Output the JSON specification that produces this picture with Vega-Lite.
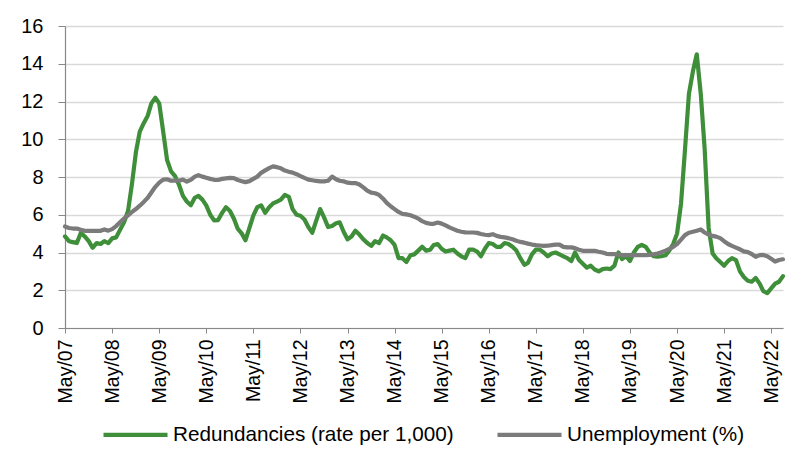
{
  "$schema": "https://vega.github.io/schema/vega-lite/v6.json",
  "width": 718,
  "height": 302,
  "autosize": "none",
  "padding": {"left": 65, "top": 26, "right": 17, "bottom": 125},
  "background": "white",
  "config": {"view": {"stroke": null}, "font": "Liberation Sans"},
  "data": {"values": [
{"d":"2007-05-01","r":4.85,"u":5.38},{"d":"2007-06-01","r":4.6,"u":5.3},{"d":"2007-07-01","r":4.55,"u":5.27},{"d":"2007-08-01","r":4.5,"u":5.27},{"d":"2007-09-01","r":5.05,"u":5.2},{"d":"2007-10-01","r":4.85,"u":5.15},{"d":"2007-11-01","r":4.6,"u":5.15},{"d":"2007-12-01","r":4.25,"u":5.15},
{"d":"2008-01-01","r":4.5,"u":5.15},{"d":"2008-02-01","r":4.45,"u":5.15},{"d":"2008-03-01","r":4.6,"u":5.22},{"d":"2008-04-01","r":4.5,"u":5.16},{"d":"2008-05-01","r":4.75,"u":5.24},{"d":"2008-06-01","r":4.8,"u":5.4},{"d":"2008-07-01","r":5.2,"u":5.6},{"d":"2008-08-01","r":5.6,"u":5.8},{"d":"2008-09-01","r":6.2,"u":5.97},{"d":"2008-10-01","r":7.6,"u":6.15},{"d":"2008-11-01","r":9.3,"u":6.3},{"d":"2008-12-01","r":10.4,"u":6.48},
{"d":"2009-01-01","r":10.85,"u":6.68},{"d":"2009-02-01","r":11.25,"u":6.9},{"d":"2009-03-01","r":11.9,"u":7.18},{"d":"2009-04-01","r":12.2,"u":7.48},{"d":"2009-05-01","r":11.9,"u":7.7},{"d":"2009-06-01","r":10.4,"u":7.86},{"d":"2009-07-01","r":8.9,"u":7.88},{"d":"2009-08-01","r":8.3,"u":7.8},{"d":"2009-09-01","r":8.05,"u":7.82},{"d":"2009-10-01","r":7.6,"u":7.8},{"d":"2009-11-01","r":7.0,"u":7.86},{"d":"2009-12-01","r":6.7,"u":7.76},
{"d":"2010-01-01","r":6.5,"u":7.85},{"d":"2010-02-01","r":6.9,"u":8.02},{"d":"2010-03-01","r":7.0,"u":8.1},{"d":"2010-04-01","r":6.8,"u":8.02},{"d":"2010-05-01","r":6.5,"u":7.96},{"d":"2010-06-01","r":6.0,"u":7.9},{"d":"2010-07-01","r":5.7,"u":7.85},{"d":"2010-08-01","r":5.72,"u":7.84},{"d":"2010-09-01","r":6.1,"u":7.9},{"d":"2010-10-01","r":6.4,"u":7.93},{"d":"2010-11-01","r":6.2,"u":7.95},{"d":"2010-12-01","r":5.8,"u":7.94},
{"d":"2011-01-01","r":5.25,"u":7.84},{"d":"2011-02-01","r":5.0,"u":7.78},{"d":"2011-03-01","r":4.65,"u":7.73},{"d":"2011-04-01","r":5.3,"u":7.78},{"d":"2011-05-01","r":5.95,"u":7.9},{"d":"2011-06-01","r":6.4,"u":8.02},{"d":"2011-07-01","r":6.5,"u":8.22},{"d":"2011-08-01","r":6.1,"u":8.35},{"d":"2011-09-01","r":6.4,"u":8.47},{"d":"2011-10-01","r":6.6,"u":8.56},{"d":"2011-11-01","r":6.7,"u":8.52},{"d":"2011-12-01","r":6.8,"u":8.46},
{"d":"2012-01-01","r":7.05,"u":8.34},{"d":"2012-02-01","r":6.95,"u":8.28},{"d":"2012-03-01","r":6.3,"u":8.23},{"d":"2012-04-01","r":6.0,"u":8.15},{"d":"2012-05-01","r":5.95,"u":8.05},{"d":"2012-06-01","r":5.75,"u":7.95},{"d":"2012-07-01","r":5.35,"u":7.86},{"d":"2012-08-01","r":5.05,"u":7.83},{"d":"2012-09-01","r":5.7,"u":7.79},{"d":"2012-10-01","r":6.3,"u":7.77},{"d":"2012-11-01","r":5.85,"u":7.77},{"d":"2012-12-01","r":5.35,"u":7.8},
{"d":"2013-01-01","r":5.4,"u":8.02},{"d":"2013-02-01","r":5.55,"u":7.88},{"d":"2013-03-01","r":5.6,"u":7.8},{"d":"2013-04-01","r":5.1,"u":7.77},{"d":"2013-05-01","r":4.7,"u":7.7},{"d":"2013-06-01","r":4.85,"u":7.68},{"d":"2013-07-01","r":5.15,"u":7.68},{"d":"2013-08-01","r":4.95,"u":7.6},{"d":"2013-09-01","r":4.7,"u":7.45},{"d":"2013-10-01","r":4.5,"u":7.28},{"d":"2013-11-01","r":4.35,"u":7.17},{"d":"2013-12-01","r":4.6,"u":7.14},
{"d":"2014-01-01","r":4.5,"u":7.05},{"d":"2014-02-01","r":4.9,"u":6.85},{"d":"2014-03-01","r":4.8,"u":6.63},{"d":"2014-04-01","r":4.65,"u":6.45},{"d":"2014-05-01","r":4.4,"u":6.3},{"d":"2014-06-01","r":3.7,"u":6.15},{"d":"2014-07-01","r":3.7,"u":6.05},{"d":"2014-08-01","r":3.5,"u":6.02},{"d":"2014-09-01","r":3.85,"u":5.97},{"d":"2014-10-01","r":3.9,"u":5.9},{"d":"2014-11-01","r":4.1,"u":5.8},{"d":"2014-12-01","r":4.3,"u":5.66},
{"d":"2015-01-01","r":4.1,"u":5.57},{"d":"2015-02-01","r":4.15,"u":5.52},{"d":"2015-03-01","r":4.4,"u":5.52},{"d":"2015-04-01","r":4.45,"u":5.59},{"d":"2015-05-01","r":4.2,"u":5.53},{"d":"2015-06-01","r":4.05,"u":5.44},{"d":"2015-07-01","r":4.1,"u":5.33},{"d":"2015-08-01","r":4.15,"u":5.24},{"d":"2015-09-01","r":3.95,"u":5.15},{"d":"2015-10-01","r":3.8,"u":5.1},{"d":"2015-11-01","r":3.7,"u":5.07},{"d":"2015-12-01","r":4.15,"u":5.06},
{"d":"2016-01-01","r":4.15,"u":5.06},{"d":"2016-02-01","r":4.05,"u":5.04},{"d":"2016-03-01","r":3.8,"u":4.98},{"d":"2016-04-01","r":4.2,"u":4.94},{"d":"2016-05-01","r":4.5,"u":4.92},{"d":"2016-06-01","r":4.45,"u":4.97},{"d":"2016-07-01","r":4.3,"u":4.88},{"d":"2016-08-01","r":4.3,"u":4.83},{"d":"2016-09-01","r":4.5,"u":4.8},{"d":"2016-10-01","r":4.45,"u":4.76},{"d":"2016-11-01","r":4.3,"u":4.7},{"d":"2016-12-01","r":4.1,"u":4.62},
{"d":"2017-01-01","r":3.7,"u":4.56},{"d":"2017-02-01","r":3.35,"u":4.52},{"d":"2017-03-01","r":3.45,"u":4.47},{"d":"2017-04-01","r":3.9,"u":4.42},{"d":"2017-05-01","r":4.15,"u":4.39},{"d":"2017-06-01","r":4.15,"u":4.37},{"d":"2017-07-01","r":4.0,"u":4.35},{"d":"2017-08-01","r":3.8,"u":4.36},{"d":"2017-09-01","r":3.95,"u":4.39},{"d":"2017-10-01","r":4.0,"u":4.42},{"d":"2017-11-01","r":3.9,"u":4.42},{"d":"2017-12-01","r":3.8,"u":4.3},
{"d":"2018-01-01","r":3.7,"u":4.27},{"d":"2018-02-01","r":3.55,"u":4.27},{"d":"2018-03-01","r":4.0,"u":4.23},{"d":"2018-04-01","r":3.6,"u":4.15},{"d":"2018-05-01","r":3.4,"u":4.09},{"d":"2018-06-01","r":3.2,"u":4.09},{"d":"2018-07-01","r":3.3,"u":4.09},{"d":"2018-08-01","r":3.1,"u":4.09},{"d":"2018-09-01","r":3.0,"u":4.04},{"d":"2018-10-01","r":3.12,"u":4.0},{"d":"2018-11-01","r":3.15,"u":3.93},{"d":"2018-12-01","r":3.12,"u":3.91},
{"d":"2019-01-01","r":3.3,"u":3.91},{"d":"2019-02-01","r":4.0,"u":3.89},{"d":"2019-03-01","r":3.65,"u":3.86},{"d":"2019-04-01","r":3.8,"u":3.86},{"d":"2019-05-01","r":3.55,"u":3.86},{"d":"2019-06-01","r":4.0,"u":3.86},{"d":"2019-07-01","r":4.3,"u":3.86},{"d":"2019-08-01","r":4.4,"u":3.86},{"d":"2019-09-01","r":4.3,"u":3.86},{"d":"2019-10-01","r":4.0,"u":3.87},{"d":"2019-11-01","r":3.8,"u":3.9},{"d":"2019-12-01","r":3.78,"u":3.95},
{"d":"2020-01-01","r":3.8,"u":4.02},{"d":"2020-02-01","r":3.85,"u":4.1},{"d":"2020-03-01","r":4.1,"u":4.19},{"d":"2020-04-01","r":4.45,"u":4.3},{"d":"2020-05-01","r":5.0,"u":4.45},{"d":"2020-06-01","r":6.6,"u":4.68},{"d":"2020-07-01","r":9.4,"u":4.92},{"d":"2020-08-01","r":12.4,"u":5.05},{"d":"2020-09-01","r":13.6,"u":5.1},{"d":"2020-10-01","r":14.5,"u":5.15},{"d":"2020-11-01","r":12.4,"u":5.22},{"d":"2020-12-01","r":9.5,"u":5.06},
{"d":"2021-01-01","r":5.3,"u":4.95},{"d":"2021-02-01","r":3.95,"u":4.88},{"d":"2021-03-01","r":3.7,"u":4.84},{"d":"2021-04-01","r":3.5,"u":4.76},{"d":"2021-05-01","r":3.3,"u":4.6},{"d":"2021-06-01","r":3.55,"u":4.45},{"d":"2021-07-01","r":3.7,"u":4.35},{"d":"2021-08-01","r":3.6,"u":4.26},{"d":"2021-09-01","r":3.0,"u":4.17},{"d":"2021-10-01","r":2.7,"u":4.06},{"d":"2021-11-01","r":2.5,"u":4.02},{"d":"2021-12-01","r":2.45,"u":3.92},
{"d":"2022-01-01","r":2.65,"u":3.77},{"d":"2022-02-01","r":2.35,"u":3.86},{"d":"2022-03-01","r":1.95,"u":3.87},{"d":"2022-04-01","r":1.85,"u":3.8},{"d":"2022-05-01","r":2.1,"u":3.67},{"d":"2022-06-01","r":2.35,"u":3.52},{"d":"2022-07-01","r":2.45,"u":3.6},{"d":"2022-08-01","r":2.75,"u":3.64}
  ]},
  "transform": [{"fold": ["r", "u"], "as": ["series", "value"]}],
  "mark": {"type": "line", "strokeWidth": 4.2, "strokeJoin": "round", "strokeCap": "round"},
  "encoding": {
    "x": {
      "field": "d", "type": "temporal", "timeUnit": "utcyearmonth",
      "scale": {"domain": [{"year": 2007, "month": 5, "date": 1, "utc": true}, {"year": 2022, "month": 8, "date": 1, "utc": true}], "nice": false},
      "axis": {
        "title": null, "format": "%b/%y", "labelAngle": -90, "grid": false,
        "values": [
          {"year": 2007, "month": 5, "date": 1, "utc": true}, {"year": 2008, "month": 5, "date": 1, "utc": true},
          {"year": 2009, "month": 5, "date": 1, "utc": true}, {"year": 2010, "month": 5, "date": 1, "utc": true},
          {"year": 2011, "month": 5, "date": 1, "utc": true}, {"year": 2012, "month": 5, "date": 1, "utc": true},
          {"year": 2013, "month": 5, "date": 1, "utc": true}, {"year": 2014, "month": 5, "date": 1, "utc": true},
          {"year": 2015, "month": 5, "date": 1, "utc": true}, {"year": 2016, "month": 5, "date": 1, "utc": true},
          {"year": 2017, "month": 5, "date": 1, "utc": true}, {"year": 2018, "month": 5, "date": 1, "utc": true},
          {"year": 2019, "month": 5, "date": 1, "utc": true}, {"year": 2020, "month": 5, "date": 1, "utc": true},
          {"year": 2021, "month": 5, "date": 1, "utc": true}, {"year": 2022, "month": 5, "date": 1, "utc": true}
        ],
        "labelFont": "Liberation Sans", "labelFontSize": 19.5, "labelColor": "#000000",
        "labelPadding": 6, "tickSize": 5, "tickColor": "#888888", "domainColor": "#888888", "domainWidth": 1.2,
        "labelOverlap": false, "labelFlush": false
      }
    },
    "y": {
      "field": "value", "type": "quantitative",
      "scale": {"domain": [0, 16], "nice": false},
      "axis": {
        "title": null, "values": [0, 2, 4, 6, 8, 10, 12, 14, 16],
        "labelFont": "Liberation Sans", "labelFontSize": 20, "labelColor": "#000000",
        "labelPadding": 15, "tickSize": 7, "tickColor": "#888888", "domainColor": "#888888", "domainWidth": 1.2,
        "gridColor": "#d9d9d9", "gridWidth": 1.5
      }
    },
    "color": {
      "field": "series", "type": "nominal",
      "scale": {"domain": ["r", "u"], "range": ["#3F8F3A", "#7B7B7B"]},
      "legend": {
        "title": null, "orient": "none", "direction": "horizontal", "legendX": 36, "legendY": 374,
        "symbolType": "stroke", "symbolSize": 4096, "symbolStrokeWidth": 4.2,
        "labelFont": "Liberation Sans", "labelFontSize": 20.7, "labelColor": "#000000", "labelLimit": 0,
        "labelOffset": 3, "columnPadding": 35, "padding": 0,
        "labelExpr": "datum.label == 'r' ? 'Redundancies (rate per 1,000)' : 'Unemployment (%)'"
      }
    }
  }
}
